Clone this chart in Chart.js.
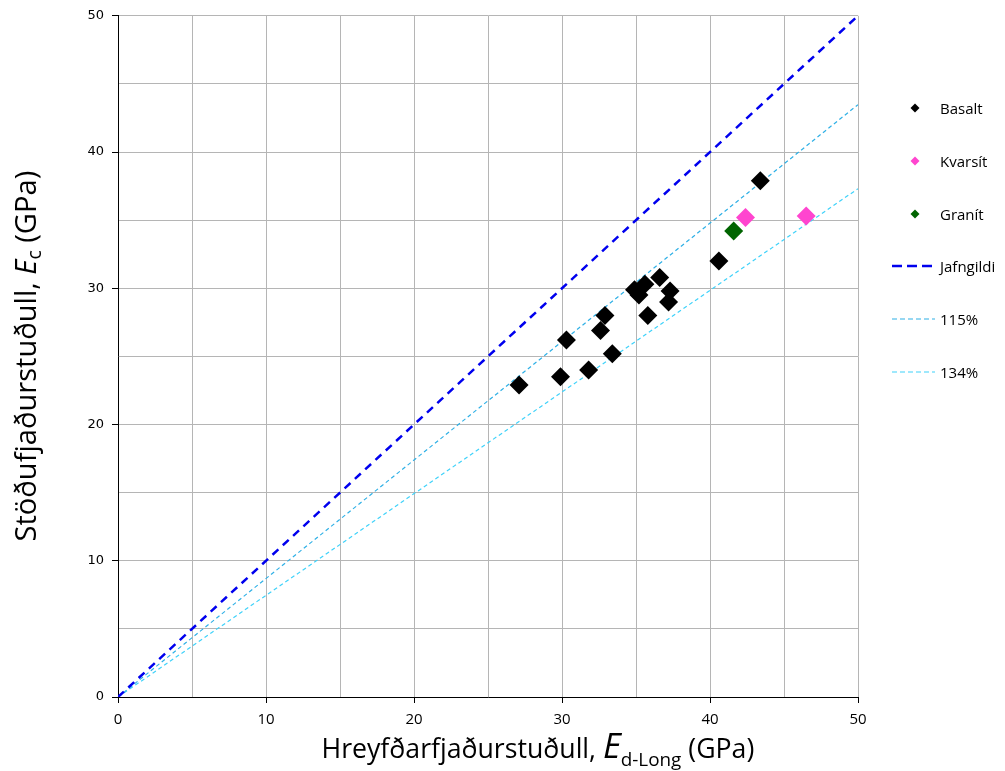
<!DOCTYPE html>
<html>
<head>
<meta charset="utf-8">
<script src="https://cdn.jsdelivr.net/npm/chart.js@4.4.0/dist/chart.umd.min.js"></script>
<style>
body { margin: 0; background: #fff; }
#wrap { position: relative; width: 1005px; height: 771px; }
#legend { position: absolute; left: 0; top: 0; font-family: 'Open Sans', sans-serif; font-size: 15px; color: #000; }
.item { position: absolute; left: 885px; height: 24px; display: flex; align-items: center; white-space: nowrap; }
.item svg { width: 52px; height: 24px; margin-right: 3px; }
</style>
</head>
<body>
<div id="wrap">
<canvas id="modChart" width="1005" height="771"></canvas>
<div id="legend"></div>
</div>
<script>
// measured values (GPa)
const basaltX = [27.1, 29.9, 31.8, 33.4, 30.3, 32.6, 32.9, 35.8, 34.9, 35.2, 35.6, 36.6, 37.3, 37.2, 40.6, 43.4];
const basaltY = [22.9, 23.5, 24.0, 25.2, 26.2, 26.9, 28.0, 28.0, 29.9, 29.5, 30.3, 30.8, 29.8, 29.0, 32.0, 37.9];
const kvarsitX = [42.4, 46.5];
const kvarsitY = [35.2, 35.3];
const granitX = [41.6];
const granitY = [34.2];

// reference lines
const lineX = [0, 50];
const jafngildiY = [0, 50];
const p115Y = [0, 43.48];
const p134Y = [0, 37.31];

const xTicks = [0, 10, 20, 30, 40, 50];
const yTicks = [0, 10, 20, 30, 40, 50];

const pts = (xs, ys) => xs.map((x, i) => ({ x: x, y: ys[i] }));

const markerSet = (label, xs, ys, color) => ({
    label: label,
    data: pts(xs, ys),
    pointStyle: 'rectRot',
    pointRadius: 9.5,
    pointHoverRadius: 9.5,
    backgroundColor: color,
    borderColor: color,
    borderWidth: 0,
    showLine: false
});

const lineSet = (label, ys, color, width, dash) => ({
    label: label,
    data: pts(lineX, ys),
    showLine: true,
    borderColor: color,
    borderWidth: width,
    borderDash: dash,
    pointRadius: 0,
    fill: false
});

const legendItems = [
    { label: 'Basalt', type: 'dot', color: '#000000' },
    { label: 'Kvarsít', type: 'dot', color: '#ff45cf' },
    { label: 'Granít', type: 'dot', color: '#006400' },
    { label: 'Jafngildi', type: 'line', color: '#0000ee', width: 2.5, dash: '10 5' },
    { label: '115%', type: 'line', color: '#2fb0e6', width: 1.2, dash: '5 3' },
    { label: '134%', type: 'line', color: '#3fd2fa', width: 1.2, dash: '5 3' }
];

const legend = document.getElementById('legend');
legendItems.forEach((it, i) => {
    const row = document.createElement('div');
    row.className = 'item';
    row.style.top = (96 + i * 52.8) + 'px';
    let icon;
    if (it.type === 'dot') {
        icon = '<svg viewBox="0 0 52 24"><polygon points="30,7.5 34.5,12 30,16.5 25.5,12" fill="' + it.color + '"/></svg>';
    } else {
        icon = '<svg viewBox="0 0 52 24"><line x1="7" y1="12" x2="50" y2="12" stroke="' + it.color +
            '" stroke-width="' + it.width + '" stroke-dasharray="' + it.dash + '"/></svg>';
    }
    row.innerHTML = icon + '<span>' + it.label + '</span>';
    legend.appendChild(row);
});

// axis titles with italic symbol and subscript
function drawRich(ctx, parts, targetW) {
    const fam = "'Open Sans', sans-serif";
    let w = 0;
    parts.forEach(p => { ctx.font = p.style + ' ' + p.size + 'px ' + fam; w += ctx.measureText(p.t).width; });
    const k = targetW / w;
    let x = -targetW / 2;
    parts.forEach(p => {
        ctx.font = p.style + ' ' + (p.size * k) + 'px ' + fam;
        ctx.fillText(p.t, x, p.dy);
        x += ctx.measureText(p.t).width;
    });
}

const titlePlugin = {
    id: 'axisTitles',
    afterDraw(chart) {
        const ctx = chart.ctx;
        ctx.save();
        ctx.fillStyle = '#000';
        ctx.textBaseline = 'alphabetic';
        ctx.textAlign = 'left';
        ctx.translate(538, 758);
        drawRich(ctx, [
            { t: 'Hreyfðarfjaðurstuðull, ', style: 'normal', size: 24, dy: 0 },
            { t: 'E', style: 'italic', size: 31, dy: 0 },
            { t: 'd-Long', style: 'normal', size: 17, dy: 8 },
            { t: ' (GPa)', style: 'normal', size: 24, dy: 0 }
        ], 433);
        ctx.restore();

        ctx.save();
        ctx.fillStyle = '#000';
        ctx.translate(36, 356);
        ctx.rotate(-Math.PI / 2);
        drawRich(ctx, [
            { t: 'Stöðufjaðurstuðull, ', style: 'normal', size: 24, dy: 0 },
            { t: 'E', style: 'italic', size: 24, dy: 0 },
            { t: 'c', style: 'normal', size: 16, dy: 5 },
            { t: ' (GPa)', style: 'normal', size: 24, dy: 0 }
        ], 371);
        ctx.restore();
    }
};

const tickCol = c => (c.tick && c.tick.value % 10 === 0) ? '#000' : 'rgba(0,0,0,0)';

new Chart(document.getElementById('modChart'), {
    type: 'scatter',
    data: {
        datasets: [
            markerSet('Basalt', basaltX, basaltY, '#000000'),
            markerSet('Kvarsít', kvarsitX, kvarsitY, '#ff45cf'),
            markerSet('Granít', granitX, granitY, '#006400'),
            lineSet('Jafngildi', jafngildiY, '#0000ee', 2.5, [8, 6]),
            lineSet('115%', p115Y, '#2fb0e6', 1.2, [4, 3]),
            lineSet('134%', p134Y, '#3fd2fa', 1.2, [4, 3])
        ]
    },
    options: {
        responsive: false,
        animation: false,
        layout: { padding: { left: 0, top: 15, right: 147, bottom: 0 } },
        plugins: {
            legend: { display: false },
            tooltip: { enabled: false }
        },
        scales: {
            x: {
                type: 'linear',
                min: 0,
                max: 50,
                afterFit: s => { s.height = 74; },
                ticks: {
                    stepSize: 5,
                    autoSkip: false,
                    maxRotation: 0,
                    padding: 8,
                    color: '#000',
                    font: { family: "'Open Sans', sans-serif", size: 15 },
                    callback: v => xTicks.includes(v) ? v : ''
                },
                grid: { color: '#b5b5b5', lineWidth: 1, tickLength: 6, tickColor: tickCol },
                border: { color: '#000', width: 1 }
            },
            y: {
                type: 'linear',
                min: 0,
                max: 50,
                afterFit: s => { s.width = 118; },
                ticks: {
                    stepSize: 5,
                    autoSkip: false,
                    padding: 8,
                    color: '#000',
                    font: { family: "'DejaVu Sans', sans-serif", size: 13 },
                    callback: v => yTicks.includes(v) ? v : ''
                },
                grid: { color: '#b5b5b5', lineWidth: 1, tickLength: 6, tickColor: tickCol },
                border: { color: '#000', width: 1 }
            }
        }
    },
    plugins: [titlePlugin]
});
</script>
</body>
</html>
